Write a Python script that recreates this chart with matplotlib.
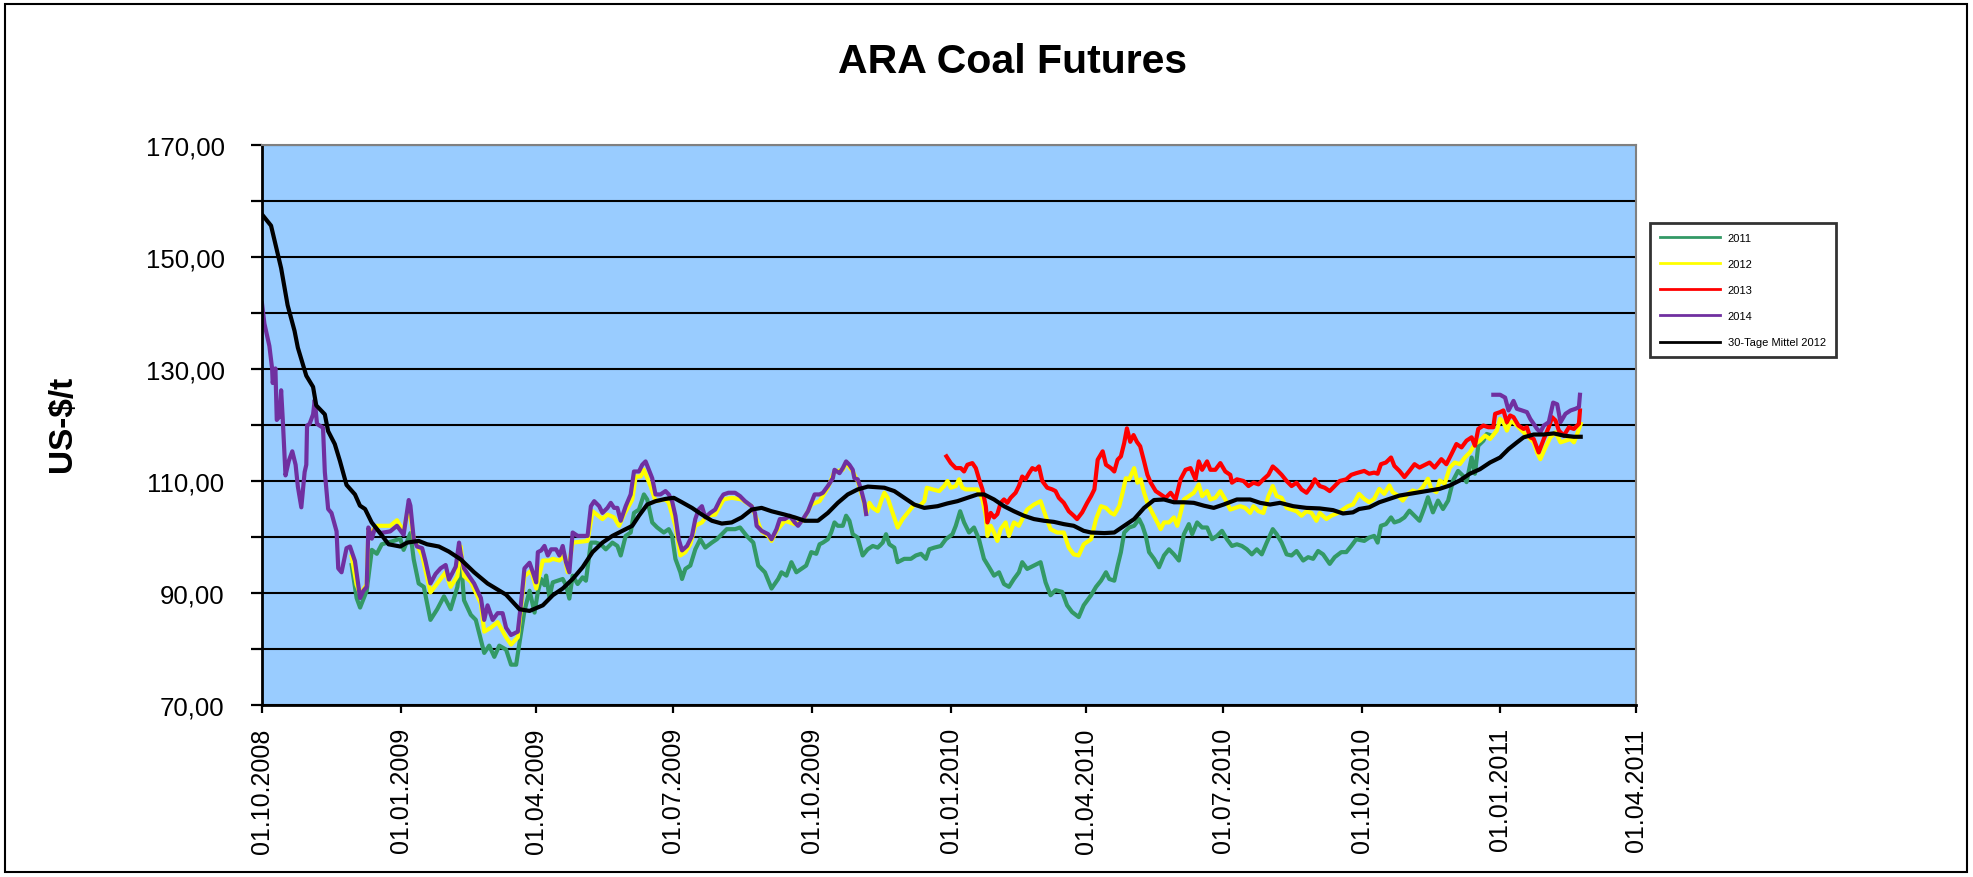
import numpy as np
import pandas as pd
import matplotlib
matplotlib.use("Agg")
import matplotlib.pyplot as plt
import matplotlib.dates as mdates
from matplotlib.patches import Rectangle

plt.rcParams['font.family'] = ['Liberation Sans', 'DejaVu Sans']

# ---------------- data (days after 01.10.2008, US-$/t) ----------------
base_date = pd.Timestamp("2008-10-01")

green_days = [59.5, 62.8, 65.1, 69.5, 72.9, 76.2, 79.5, 87.3, 91.8, 94, 98.5, 100.7, 104, 107.4, 111.8, 116.3, 120.8, 125.2, 129.7, 131.9, 134.1, 138.6, 141.9, 147.5, 150.8, 154.2, 157.5, 162, 165.3, 168.7, 170.9, 174.2, 177.6, 180.9, 183.1, 185.3, 187.5, 188.6, 190.8, 193, 196.3, 199.6, 201.8, 204, 206.2, 209.5, 212.8, 215, 218.3, 221.6, 224.9, 228.2, 232.6, 235.9, 238.1, 241.4, 244.7, 246.9, 250.2, 253.5, 255.7, 259, 262.3, 266.7, 270, 272.2, 274.4, 277.7, 278.8, 281, 284.3, 287.6, 290.9, 294.2, 298.6, 301.9, 306.3, 308.5, 314, 317.3, 321.7, 326.1, 329.4, 333.8, 338.2, 342.6, 344.8, 348.1, 351.4, 354.7, 358, 361.2, 364.6, 367.9, 370.1, 372.3, 375.6, 377.8, 380, 382.2, 385.5, 387.7, 389.9, 392.1, 395.4, 398.7, 402, 405.4, 408.7, 412, 414.2, 416.4, 419.7, 421.9, 426.3, 430.7, 434, 437.4, 440.7, 442.9, 446.2, 450.6, 453.9, 458.3, 460.5, 463.4, 466, 469.3, 472.6, 475.9, 479.2, 482.6, 485.9, 489.2, 492.5, 495.8, 499.1, 502.4, 504.6, 507.9, 512.4, 516.8, 520.1, 523.4, 526.7, 531.1, 534.4, 537.7, 542.1, 545.4, 550.3, 553.6, 556.9, 560.2, 562.4, 565.7, 567.9, 570.1, 572.3, 575.6, 578.9, 582.2, 584.4, 586.6, 588.8, 592.1, 595.4, 598.7, 602, 605.3, 608.6, 611.9, 615.2, 617.4, 620.7, 624, 627.3, 630.6, 633.9, 637.2, 640.5, 643.8, 647.1, 650.4, 653.7, 657, 660.3, 663.6, 666.9, 670.9, 673.5, 676.8, 680.1, 683.4, 686.7, 691.1, 694.4, 697.7, 701, 704.3, 708.7, 712, 716.4, 719.7, 723, 726.3, 731.6, 734.9, 738.2, 740.5, 742.7, 746, 749.4, 751.6, 755, 758.3, 761.6, 765, 768.3, 771.7, 773.9, 777.2, 780.6, 783.9, 787.3, 790.6, 793.9, 797.3, 799.5, 802.9, 805.1, 807.3, 810.7, 812.9, 816.2]
green_vals = [95, 89.1, 87.4, 90.4, 97.7, 97, 98.7, 99.3, 99.7, 97.7, 100.7, 96, 91.7, 91.1, 85.2, 87.1, 89.4, 87.1, 91.1, 96.4, 88.7, 86.1, 85.2, 79.3, 80.6, 78.6, 80.6, 79.9, 77.2, 77.2, 81.1, 86.8, 90.4, 86.5, 90.2, 92.5, 91.4, 93.1, 89.3, 91.9, 92.2, 92.5, 91.4, 89, 93.1, 91.6, 92.8, 92.2, 99, 99, 98.7, 97.8, 99, 98.4, 96.7, 100.2, 100.8, 104.3, 104.9, 107.6, 106.7, 102.6, 101.7, 100.8, 101.4, 100.2, 96.1, 93.7, 92.5, 94.3, 94.9, 97.8, 99.6, 98.1, 99, 99.6, 100.8, 101.4, 101.4, 101.7, 100.2, 99, 94.9, 93.7, 90.8, 92.5, 93.7, 93.1, 95.5, 93.7, 94.3, 94.9, 97.3, 97, 98.7, 99, 99.6, 100.8, 102.6, 102, 102, 103.8, 102.9, 100.5, 99.9, 96.7, 97.8, 98.4, 98.1, 99, 100.5, 98.7, 98.1, 95.5, 96.1, 96.1, 96.7, 97, 96.1, 97.8, 98.1, 98.4, 99.6, 100.5, 102, 104.6, 102.6, 100.8, 101.7, 99.6, 96.1, 94.6, 93.1, 93.7, 91.6, 91.1, 92.5, 93.7, 95.5, 94.3, 94.9, 95.5, 91.9, 89.6, 90.5, 90.2, 87.8, 86.6, 85.7, 87.8, 89.6, 91.1, 92.2, 93.7, 92.5, 92.2, 94.9, 97.3, 100.8, 101.7, 102, 103.2, 102, 100.2, 97.3, 96.1, 94.6, 96.7, 97.8, 96.9, 95.8, 100.5, 102.3, 100.5, 102.6, 101.7, 101.7, 99.6, 100.2, 101.1, 99.6, 98.4, 98.7, 98.4, 97.8, 96.9, 97.8, 96.9, 99, 101.4, 100.5, 99, 96.9, 96.7, 97.5, 95.8, 96.4, 96.1, 97.5, 96.9, 95.2, 96.4, 97.3, 97.3, 98.4, 99.6, 99.3, 99.9, 100.2, 99, 102, 102.3, 103.5, 102.6, 102.9, 103.5, 104.7, 103.8, 102.9, 105.3, 107.1, 104.4, 106.5, 105, 106.5, 110.1, 111.8, 110.9, 109.8, 114.2, 111.3, 116.3, 117.2, 118.4, 118.1]

yellow_days = [59.5, 62.8, 65.1, 69.5, 70.6, 72.9, 76.2, 85.1, 89.6, 94, 97.4, 100.7, 106.3, 111.8, 116.3, 121.9, 125.2, 129.7, 131.9, 134.1, 138.6, 145.3, 147.5, 151.9, 156.4, 162, 165.3, 169.8, 174.2, 178.7, 182, 186.4, 190.8, 193, 197.4, 200.7, 202.9, 206.2, 216.1, 219.4, 226, 229.3, 233.7, 237, 240.3, 245.8, 248, 251.3, 253.5, 257.9, 261.2, 267.8, 270, 274.4, 277.7, 281, 284.3, 287.6, 292, 295.3, 300.8, 306.3, 311.8, 318.4, 325, 327.2, 331.6, 336, 338.2, 341.5, 347, 353.6, 359.1, 364.6, 370.1, 375.6, 380, 385.5, 387.7, 392.1, 395.4, 399.9, 401, 403.2, 405.4, 408.7, 410.9, 413.1, 415.3, 418.6, 421.9, 425.2, 428.5, 432.9, 436.3, 439.6, 441.3, 445.1, 449.5, 452.8, 455, 457.2, 460.5, 462.7, 464.9, 467.1, 470.4, 474.9, 478.2, 480.4, 481.5, 483.7, 485.9, 488.1, 490.3, 493.6, 495.8, 499.1, 502.4, 504.6, 507.9, 512.4, 516.8, 520.1, 523.4, 527.8, 532.2, 535.5, 538.8, 542.1, 545.4, 550.3, 553.6, 556.9, 560.2, 563.5, 565.7, 569, 571.2, 573.4, 575.6, 578.9, 581.1, 583.3, 585.5, 587.7, 591, 594.3, 596.5, 598.7, 602, 605.3, 607.5, 609.7, 611.9, 615.2, 618.5, 621.8, 624, 627.3, 629.5, 632.8, 636.1, 639.4, 642.7, 646, 649.3, 652.6, 655.9, 658.1, 661.4, 664.7, 668, 670.9, 673.5, 676.8, 680.1, 683.4, 686.7, 690, 693.3, 696.6, 699.9, 702.1, 706.5, 709.8, 714.2, 717.5, 720.8, 724.1, 728.2, 731.6, 734.9, 738.2, 741.6, 744.9, 748.3, 750.5, 753.8, 757.2, 760.5, 763.9, 767.2, 770.5, 773.9, 776.1, 779.5, 781.7, 785, 788.4, 791.7, 795.1, 798.4, 801.7, 805.1, 808.4, 811.8, 815.1, 819.6, 821.8, 824, 826.3, 828.5, 830.7, 834, 837.4, 840.7, 844.1, 846.3, 848.5, 851.9, 855.2, 858.6, 861.9, 865.2, 868.6, 870.8, 873, 875.3]
yellow_vals = [96.5, 91.5, 89.8, 91.5, 101.2, 101, 102, 102, 103, 101, 105.6, 99.7, 96.7, 90.1, 91.7, 93.7, 91.1, 93, 98.3, 93, 92, 88.1, 83.1, 83.8, 84.8, 82.1, 80.8, 82.1, 93, 94, 90.8, 95.8, 95.8, 96.1, 95.8, 96.7, 93.7, 99, 99.3, 104.6, 103.2, 104, 103.5, 102, 104, 106.7, 110.8, 110.8, 112, 109.1, 106.4, 106.7, 106.1, 102, 96.7, 97.3, 98.7, 102, 102.6, 103.8, 104, 106.7, 107, 106.7, 105.5, 104, 101, 100.2, 99.3, 101.1, 102.9, 102.3, 102.9, 105.8, 106.4, 108.8, 111.7, 112, 113.2, 111.7, 110, 105.8, 104.1, 106.1, 105.2, 104.6, 106.4, 107.9, 107, 104.3, 101.7, 103.2, 104.3, 105.8, 105.5, 106.4, 108.8, 108.5, 108.2, 109.1, 110, 108.8, 109.1, 110.3, 108.8, 108.5, 108.5, 108.5, 106.7, 103.8, 100.2, 102, 100.8, 99.3, 101.4, 102.6, 100.2, 102.6, 102, 103.2, 104.9, 105.8, 106.4, 103.8, 101.4, 100.8, 100.8, 98.1, 96.9, 96.7, 98.7, 99.6, 103.2, 105.5, 105.2, 104.3, 104, 105.5, 107.9, 110.5, 110.3, 112.3, 109.7, 110.3, 107.9, 106.1, 104.3, 102.6, 101.4, 102.6, 102.6, 103.5, 102, 104.3, 106.7, 107.3, 107.9, 109.4, 107.3, 108.2, 106.7, 107, 108.2, 106.7, 104.9, 105.2, 105.5, 105.2, 104.3, 105.5, 104.6, 104.3, 107.3, 109.1, 107.3, 107, 105.2, 104.9, 104.6, 103.8, 104.6, 104.3, 102.9, 104.3, 103.2, 103.8, 104.3, 104.9, 105.5, 105.8, 107.7, 106.8, 106.2, 106.8, 108.6, 107.7, 109.2, 108, 107.4, 106.5, 107.7, 108.3, 108, 108.9, 110.4, 108.6, 108, 110.1, 109.5, 112.4, 113.3, 113, 114.2, 115.1, 116.6, 117.2, 118.1, 117.5, 119, 121.1, 120.5, 119, 120.5, 120.5, 119.6, 118.7, 117.8, 116.9, 115.1, 113.9, 116, 117.8, 118.7, 116.9, 117.2, 117.5, 116.9, 118.4, 120.2]

red_days = [454.3, 457.2, 460.5, 463.8, 466, 468.2, 471.5, 473.8, 476, 478.2, 480.4, 481.5, 483.7, 485.9, 488.1, 490.3, 492.5, 494.7, 496.9, 500.2, 502.4, 504.6, 506.8, 509.1, 511.3, 513.5, 515.7, 517.9, 521.2, 524.5, 526.7, 528.9, 532.2, 535.5, 538.8, 541, 544.4, 547.7, 550.3, 552.5, 554.7, 558, 560.2, 563.5, 565.7, 567.9, 570.1, 572.3, 574.1, 576.3, 578.5, 580.7, 582.9, 585.5, 587.7, 589.9, 593.2, 596.5, 599.8, 603.1, 606.4, 609.7, 613, 616.3, 619.6, 621.8, 624, 627.3, 629.5, 632.8, 636.1, 639.4, 642.7, 643.8, 647.1, 651.5, 654.8, 658.1, 661.4, 664.7, 668, 670.9, 673.5, 676.8, 680.1, 683.4, 686.7, 690, 693.3, 696.6, 698.8, 702.1, 705.4, 708.7, 712, 715.3, 719.7, 723, 726.3, 731.6, 734.9, 738.2, 740.5, 742.7, 746, 749.4, 751.6, 755, 758.3, 761.6, 765, 768.3, 772.8, 775, 778.3, 782.8, 786.1, 789.5, 792.8, 796.2, 799.5, 802.9, 805.1, 807.3, 810.7, 814, 817.3, 818.5, 821.8, 824, 826.3, 828.5, 830.7, 834, 837.4, 839.6, 841.8, 844.1, 847.4, 850.8, 854.1, 856.3, 858.6, 860.8, 864.1, 867.5, 870.8, 874.1, 874.8]
red_vals = [114.4, 113.2, 112.3, 112.3, 111.7, 112.9, 113.2, 112.3, 110.3, 108.5, 105.5, 102.6, 104.3, 103.5, 104.1, 106.1, 106.7, 106.1, 107, 107.9, 109.1, 110.8, 110.3, 111.4, 112.3, 112, 112.6, 110, 108.8, 108.5, 108.2, 107, 106.1, 104.6, 103.8, 103.2, 104.4, 106.1, 107.3, 108.5, 113.8, 115.3, 112.9, 112.3, 111.7, 113.8, 114.4, 116.8, 119.4, 117, 118.2, 117, 116.2, 113.5, 111.1, 109.7, 108.2, 107.6, 107, 107.9, 106.7, 110.3, 112, 112.3, 110.3, 113.5, 112, 113.5, 112, 112, 113.2, 111.7, 111.1, 109.7, 110.3, 110, 109.1, 109.7, 109.4, 110.3, 111.1, 112.6, 112, 111.1, 110, 109.1, 109.7, 108.5, 107.9, 109.1, 110.3, 109.1, 108.8, 108.2, 109.1, 110, 110.3, 111.1, 111.4, 111.8, 111.3, 111.5, 111.3, 113, 113.3, 114.2, 112.7, 111.8, 110.7, 111.8, 113, 112.4, 113, 113.3, 112.4, 113.9, 113, 114.8, 116.6, 116, 117.2, 117.8, 116.3, 119.3, 119.9, 119.6, 119.6, 122, 122.3, 122.6, 120.5, 121.7, 121.4, 119.9, 119.3, 119.6, 117.8, 117.5, 115.1, 117.5, 119.6, 121.4, 120.8, 119, 118.1, 119.6, 119.3, 120.2, 122.6]

purple_days_a = [0, 1.6, 4.9, 6.7, 7.1, 8.9, 9.8, 11.6, 12.7, 13.8, 15.6, 17.8, 20.1, 22.3, 23.8, 26.1, 28.3, 29.4, 29.9, 31.6, 33.9, 35, 36.5, 40.5, 41.7, 43.9, 46.1, 49.5, 50.6, 52.8, 56.1, 58.4, 61.7, 65.1, 67.3, 69.5, 70.6, 72.9, 75.1, 78.4, 85.1, 89.6, 94, 97.4, 98.5, 100.7, 102.9, 106.3, 108.5, 111.8, 115.2, 118.5, 121.9, 124.1, 128.6, 130.8, 131.9, 134.1, 137.5, 140.8, 145.3, 147.5, 149.7, 153.1, 156.4, 159.7, 162, 165.3, 169.8, 172, 174.2, 177.6, 179.8, 182, 183.1, 185.3, 187.5, 189.7, 191.9, 195.2, 197.4, 199.6, 201.8, 204, 206.2, 209.5, 212.8, 216.1, 218.3, 220.5, 223.8, 226, 229.3, 231.5, 233.7, 235.9, 238.1, 241.4, 244.7, 246.9, 250.2, 252.4, 254.6, 256.8, 259, 261.2, 264.5, 267.8, 270, 272.2, 274.4, 276.6, 278.8, 282.1, 285.4, 287.6, 289.8, 292, 294.2, 297.5, 300.8, 304.1, 306.3, 309.6, 314, 317.3, 320.6, 325, 327.2, 328.3, 331.6, 336, 338.2, 341.5, 343.7, 347, 350.3, 353.6, 355.8, 359.1, 362.4, 364.6, 366.8, 370.1, 372.3, 375.6, 378.9, 380, 383.3, 385.5, 387.7, 389.9, 392.1, 393.2, 395.4, 397.6, 399.9, 401]
purple_vals_a = [141.7, 138.1, 134.1, 130.1, 127.5, 130.1, 120.9, 121.5, 126.2, 120.9, 111, 113.6, 115.3, 112.9, 109, 105.3, 111.6, 112.9, 119.9, 120.2, 121.9, 124.5, 120.2, 119.5, 111.6, 105, 104.3, 101, 94.4, 93.7, 98, 98.3, 95.7, 89.1, 90.4, 91.1, 101.7, 99.7, 101.7, 100.7, 101, 102, 100.4, 106.6, 105.6, 99.7, 98.3, 98, 95.7, 91.7, 93.4, 94.4, 95, 92.4, 94.7, 99, 97, 94.4, 93, 91.7, 89.1, 85.2, 87.8, 85.2, 86.4, 86.4, 83.8, 82.5, 83.1, 88.4, 94.4, 95.4, 93.7, 91.9, 97.3, 97.6, 98.4, 96.7, 97.8, 97.8, 96.7, 98.4, 95.5, 93.7, 100.8, 100.2, 100.2, 100.2, 105.5, 106.4, 105.5, 104.3, 105.2, 106.1, 105.2, 105.2, 102.9, 105.5, 107.6, 111.7, 111.7, 112.9, 113.5, 112, 110.5, 107.6, 107.6, 108.2, 107.6, 106.4, 103.8, 99.6, 97.6, 98.4, 100.2, 103.2, 104.9, 105.5, 103.5, 104.3, 104.9, 106.7, 107.6, 107.9, 107.9, 107.3, 106.4, 105.5, 104.3, 102, 101.1, 100.5, 99.6, 101.4, 103.2, 103.2, 103.8, 102.6, 102, 103.2, 104.6, 106.1, 107.6, 107.6, 107.9, 109.1, 110.5, 112, 111.4, 112.3, 113.5, 112.9, 112, 110.5, 110.3, 108.5, 106.1, 104.1]
purple_days_b = [817.3, 821.8, 825.1, 827.4, 830.7, 832.9, 836.3, 839.6, 841.8, 844.1, 846.3, 848.5, 850.8, 854.1, 857, 859.7, 861.9, 865.2, 868.6, 871.9, 874.1, 874.8]
purple_vals_b = [125.4, 125.4, 124.9, 122.6, 124.3, 122.9, 122.6, 122.3, 121.1, 120.2, 119.3, 118.7, 119.9, 120.5, 124, 123.7, 120.5, 122, 122.6, 122.9, 123.2, 125.4]

black_days = [0, 6, 12.7, 17, 21.6, 23.8, 29.4, 33.9, 36, 41.7, 43.9, 48.3, 51.7, 56.1, 61.7, 65, 68.4, 72.8, 78.4, 84, 91.8, 96.3, 104, 109.6, 117.4, 124, 131.9, 140.8, 149.7, 162, 170.9, 177.6, 186.4, 193, 199.6, 206.2, 212.8, 219.4, 226, 232.6, 239.2, 245.8, 250.2, 255.7, 261.2, 267.8, 273.3, 278.8, 285.4, 292, 298.6, 305.2, 311.8, 318.4, 325, 331.6, 338.2, 347, 353.6, 360.2, 369, 375.6, 382.2, 388.8, 395.4, 402.1, 413.1, 419.7, 426.3, 432.9, 439.6, 448.4, 455, 461.6, 468.2, 474.9, 479.3, 485.9, 492.5, 499.1, 505.7, 512.4, 519, 525.6, 532.2, 538.8, 545.4, 550.3, 559.1, 565.7, 572.3, 578.9, 585.5, 592.1, 598.7, 605.3, 611.9, 618.5, 625.1, 631.7, 638.3, 647.1, 655.9, 662.5, 669.1, 675.7, 684.5, 693.3, 702.1, 710.9, 717.5, 724.1, 728.2, 734.9, 741.6, 748.3, 755, 761.6, 768.3, 775, 781.7, 788.4, 795.1, 801.7, 808.4, 815.1, 821.8, 827.4, 833, 837.4, 844.1, 850.8, 857.4, 864.1, 870.8, 875.3]
black_vals = [157.6, 155.6, 148, 141.4, 136.8, 133.8, 128.8, 126.8, 123.5, 121.9, 118.9, 116.6, 113.6, 109.3, 107.6, 105.6, 105, 102.6, 100.7, 98.7, 98.3, 99, 99.3, 98.7, 98.3, 97.4, 96, 93.7, 91.7, 89.7, 87.1, 86.8, 87.8, 89.6, 90.8, 92.5, 94.6, 97.3, 99, 100.2, 101.1, 102, 103.8, 105.8, 106.4, 106.8, 107, 106.2, 105.2, 104, 102.9, 102.4, 102.6, 103.5, 104.9, 105.2, 104.6, 104, 103.5, 102.9, 102.9, 104.3, 106.1, 107.6, 108.5, 109, 108.8, 108.2, 107, 105.8, 105.2, 105.5, 106, 106.4, 107, 107.6, 107.6, 106.7, 105.5, 104.6, 103.8, 103.2, 102.9, 102.7, 102.3, 102, 101.1, 100.8, 100.7, 100.8, 102, 103.2, 105.2, 106.6, 106.7, 106.2, 106.2, 106.1, 105.6, 105.2, 105.8, 106.7, 106.7, 106.1, 105.8, 106.1, 105.5, 105.2, 105.1, 104.8, 104.2, 104.4, 105, 105.3, 106.2, 106.8, 107.4, 107.7, 108, 108.3, 108.6, 109.2, 110.1, 111.3, 112.1, 113.3, 114.2, 115.7, 116.9, 117.8, 118.3, 118.3, 118.5, 118.1, 117.9, 117.9]

series_labels = ["2011", "2012", "2013", "2014", "30-Tage Mittel 2012"]
tick_dates = ["2008-10-01", "2009-01-01", "2009-04-01", "2009-07-01", "2009-10-01",
              "2010-01-01", "2010-04-01", "2010-07-01", "2010-10-01", "2011-01-01", "2011-04-01"]
y_ticks = [70, 80, 90, 100, 110, 120, 130, 140, 150, 160, 170]


def to_dates(days):
    return base_date + pd.to_timedelta(np.asarray(days, dtype=float), unit="D")


# ---------------- figure ----------------
W, H = 1973, 878
fig = plt.figure(figsize=(W / 100, H / 100), dpi=100)
ax = fig.add_axes([262 / W, 1 - 706 / H, (1636 - 262) / W, (706 - 146) / H])
ax.set_facecolor("#99CCFF")

lw = 3.0
l1, = ax.plot(to_dates(green_days), green_vals, color="#339966", lw=lw, label=series_labels[0])
l2, = ax.plot(to_dates(yellow_days), yellow_vals, color="#FFFF00", lw=lw, label=series_labels[1])
l3, = ax.plot(to_dates(red_days), red_vals, color="#FF0000", lw=lw, label=series_labels[2])
l4, = ax.plot(to_dates(purple_days_a), purple_vals_a, color="#7030A0", lw=lw, label=series_labels[3])
ax.plot(to_dates(purple_days_b), purple_vals_b, color="#7030A0", lw=lw)
l5, = ax.plot(to_dates(black_days), black_vals, color="black", lw=lw, label=series_labels[4])

ax.set_xlim(pd.Timestamp(tick_dates[0]), pd.Timestamp(tick_dates[-1]))
ax.set_ylim(y_ticks[0], y_ticks[-1])

# y axis
ax.set_yticks(y_ticks)
ax.set_yticklabels([f"{v:.2f}".replace(".", ",") if (v - 70) % 20 == 0 else "" for v in y_ticks])
ax.yaxis.grid(True, color="black", lw=1.5)
ax.set_axisbelow(True)
ax.tick_params(axis="y", direction="out", length=8, width=1.6, pad=19, labelsize=18.5)

# x axis
ax.set_xticks(pd.to_datetime(tick_dates))
ax.xaxis.set_major_formatter(mdates.DateFormatter("%d.%m.%Y"))
ax.tick_params(axis="x", direction="out", length=6, width=1.6, pad=10, labelsize=18, labelrotation=90)

for s in ["top", "right"]:
    ax.spines[s].set_color("#808080")
    ax.spines[s].set_linewidth(1.5)
for s in ["left", "bottom"]:
    ax.spines[s].set_color("black")
    ax.spines[s].set_linewidth(2)

# titles
fig.text(1013 / W, 1 - 62 / H, "ARA Coal Futures", ha="center", va="center",
         fontsize=29.5, fontweight="bold")
fig.text(63 / W, 1 - 424 / H, "US-$/t", ha="center", va="center", rotation=90,
         fontsize=24, fontweight="bold")

# legend
leg = ax.legend(handles=[l1, l2, l3, l4, l5], loc="upper left",
                bbox_to_anchor=(1650 / W, 1 - 224 / H), bbox_transform=fig.transFigure,
                borderaxespad=0, frameon=True, fancybox=False, edgecolor="black",
                fontsize=8, handlelength=5.4, handletextpad=0.7, labelspacing=1.45,
                borderpad=0.9)
leg.get_frame().set_linewidth(2)
leg.get_frame().set_facecolor("white")
for ln in leg.get_lines():
    ln.set_linewidth(2)

# outer frame
fig.add_artist(Rectangle((5 / W, 5 / H), 1962 / W, 868 / H, transform=fig.transFigure,
                         fill=False, edgecolor="black", lw=1.5))

fig.savefig("out.png", dpi=100)
